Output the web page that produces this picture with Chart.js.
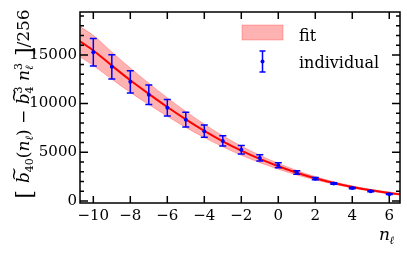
<!DOCTYPE html>
<html>
<head>
<meta charset="utf-8">
<script src="https://cdn.jsdelivr.net/npm/chart.js@4"></script>
<style>
  html, body { margin: 0; padding: 0; background: #fff; }
  canvas { display: block; }
</style>
</head>
<body>
<canvas id="chart" width="407" height="254"></canvas>
<script>
// individual points with error bars
const nValues = [-10, -9, -8, -7, -6, -5, -4, -3, -2, -1, 0, 1, 2, 3, 4, 5, 6]
const individualValues = [15270, 13770, 12230, 10900, 9570, 8350, 7170, 6170, 5270, 4430, 3670, 2930, 2300, 1800, 1330, 1000, 700]
const individualErrors = [1400, 1250, 1130, 1000, 850, 750, 630, 530, 430, 330, 250, 180, 120, 80, 60, 50, 40]

// fit curve and its band
const fitN = [-10.72, -10, -9, -8, -7, -6, -5, -4, -3, -2, -1, 0, 1, 2, 3, 4, 5, 6, 6.58]
const fitCenter = [16400, 15450, 13900, 12400, 11000, 9650, 8380, 7200, 6130, 5170, 4320, 3570, 2910, 2340, 1860, 1450, 1110, 830, 690]
const fitLow = [14800, 13900, 12500, 11150, 9900, 8700, 7560, 6510, 5560, 4700, 3940, 3270, 2680, 2170, 1730, 1340, 1010, 730, 590]
const fitHigh = [17900, 17000, 15300, 13650, 12100, 10600, 9200, 7890, 6700, 5640, 4700, 3870, 3140, 2510, 1990, 1560, 1210, 930, 790]

const xTicks = [-10, -8, -6, -4, -2, 0, 2, 4, 6]
const yTicks = [0, 5000, 10000, 15000]

const SERIF = "'DejaVu Serif', 'Liberation Serif', serif"
const BLUE = "rgb(0, 0, 255)"
const RED = "rgb(255, 0, 0)"

const pts = (xs, ys) => xs.map((x, i) => ({ x, y: ys[i] }))

const errorBars = {
  id: "errorBars",
  afterDatasetDraw(chart, args) {
    if (args.index !== 1) return
    const { ctx, scales: { x, y } } = chart
    ctx.save()
    ctx.strokeStyle = BLUE
    ctx.lineWidth = 1.5
    nValues.forEach((n, i) => {
      const px = x.getPixelForValue(n)
      const top = y.getPixelForValue(individualValues[i] + individualErrors[i])
      const bot = y.getPixelForValue(individualValues[i] - individualErrors[i])
      ctx.beginPath()
      ctx.moveTo(px, top); ctx.lineTo(px, bot)
      ctx.moveTo(px - 3.5, top); ctx.lineTo(px + 3.5, top)
      ctx.moveTo(px - 3.5, bot); ctx.lineTo(px + 3.5, bot)
      ctx.stroke()
    })
    ctx.restore()
  }
}

// draw a run of math pieces along a baseline, centred at 0
function drawMath(ctx, pieces) {
  const widths = pieces.map(p => {
    ctx.font = `${p.italic ? "italic " : ""}${p.size}px ${SERIF}`
    let w = ctx.measureText(p.t).width
    if (p.sup) {
      ctx.font = `${p.size}px ${SERIF}`
      w = Math.max(w, ctx.measureText(p.sup).width)
    }
    return w
  })
  let cx = -widths.reduce((a, b) => a + b, 0) / 2
  pieces.forEach((p, i) => {
    ctx.font = `${p.italic ? "italic " : ""}${p.size}px ${SERIF}`
    ctx.fillText(p.t, cx, p.dy || 0)
    if (p.tilde) {
      ctx.font = `${p.size}px ${SERIF}`
      ctx.fillText("~", cx + 2, -10)
    }
    if (p.sup) {
      ctx.font = `${p.size}px ${SERIF}`
      ctx.fillText(p.sup, cx, -7)
    }
    cx += widths[i]
  })
}

const frameAndText = {
  id: "frameAndText",
  afterDraw(chart) {
    const { ctx, chartArea: a, scales: { x, y } } = chart
    ctx.save()
    ctx.strokeStyle = "#000"
    ctx.lineWidth = 1.5
    ctx.strokeRect(a.left, a.top, a.right - a.left, a.bottom - a.top)

    ctx.beginPath()
    xTicks.forEach(v => {
      const px = x.getPixelForValue(v)
      ctx.moveTo(px, a.bottom); ctx.lineTo(px, a.bottom - 7)
      ctx.moveTo(px, a.top); ctx.lineTo(px, a.top + 7)
    })
    for (let v = 0; v <= 19000; v += 1000) {
      const py = y.getPixelForValue(v)
      const len = v % 5000 === 0 ? 8 : 4
      ctx.moveTo(a.left, py); ctx.lineTo(a.left + len, py)
      ctx.moveTo(a.right, py); ctx.lineTo(a.right - len, py)
    }
    ctx.stroke()

    // legend
    ctx.fillStyle = "rgba(255, 0, 0, 0.3)"
    ctx.fillRect(242, 25, 41, 15)
    ctx.strokeStyle = "rgba(255, 0, 0, 0.25)"
    ctx.lineWidth = 1
    ctx.strokeRect(242, 25, 41, 15)
    ctx.strokeStyle = BLUE
    ctx.lineWidth = 1.5
    ctx.beginPath()
    ctx.moveTo(262.5, 51); ctx.lineTo(262.5, 72)
    ctx.moveTo(259.5, 51); ctx.lineTo(265.5, 51)
    ctx.moveTo(259.5, 72); ctx.lineTo(265.5, 72)
    ctx.stroke()
    ctx.fillStyle = BLUE
    ctx.beginPath(); ctx.arc(262.5, 61.5, 2, 0, Math.PI * 2); ctx.fill()

    ctx.fillStyle = "#000"
    ctx.font = `16px ${SERIF}`
    ctx.textBaseline = "alphabetic"
    ctx.fillText("fit", 299, 40.5)
    ctx.fillText("individual", 299, 67.5)

    // x label
    ctx.font = `italic 17px ${SERIF}`
    ctx.fillText("n", 379, 240)
    ctx.font = `italic 11px ${SERIF}`
    ctx.fillText("ℓ", 389.5, 244)

    // y label
    ctx.translate(29, 104)
    ctx.rotate(-Math.PI / 2)
    drawMath(ctx, [
      { t: "[ ", size: 22, dy: 3 },
      { t: "b", italic: true, size: 17, tilde: true },
      { t: "40", size: 11, dy: 4 },
      { t: "(", size: 17 },
      { t: "n", italic: true, size: 17 },
      { t: "ℓ", italic: true, size: 11, dy: 4 },
      { t: ") − ", size: 17 },
      { t: "b", italic: true, size: 17, tilde: true },
      { t: "4", size: 11, dy: 4, sup: "3" },
      { t: " n", italic: true, size: 17 },
      { t: "ℓ", italic: true, size: 11, dy: 4, sup: "3" },
      { t: " ]", size: 22, dy: 3 },
      { t: "/256", size: 17 }
    ])
    ctx.restore()
  }
}

const tickFont = { family: SERIF, size: 15 }

new Chart(document.getElementById("chart"), {
  data: {
    datasets: [
      {
        type: "scatter",
        label: "individual",
        data: pts(nValues, individualValues),
        backgroundColor: BLUE,
        borderColor: BLUE,
        pointRadius: 2,
        borderWidth: 0
      },
      {
        type: "line",
        label: "fit line",
        data: pts(fitN, fitCenter),
        borderColor: RED,
        borderWidth: 2,
        pointRadius: 0,
        cubicInterpolationMode: "monotone",
        fill: false
      },
      {
        type: "line",
        label: "fit",
        data: pts(fitN, fitHigh),
        borderColor: "rgba(255, 0, 0, 0.25)",
        borderWidth: 1,
        backgroundColor: "rgba(255, 0, 0, 0.3)",
        pointRadius: 0,
        cubicInterpolationMode: "monotone",
        fill: "+1"
      },
      {
        type: "line",
        label: "fit low",
        data: pts(fitN, fitLow),
        borderColor: "rgba(255, 0, 0, 0.25)",
        borderWidth: 1,
        pointRadius: 0,
        cubicInterpolationMode: "monotone",
        fill: false
      }
    ]
  },
  options: {
    responsive: false,
    animation: false,
    devicePixelRatio: 1,
    layout: { padding: { top: 7, right: 7, left: 0, bottom: 0 } },
    plugins: {
      legend: { display: false },
      tooltip: { enabled: false }
    },
    scales: {
      x: {
        type: "linear",
        min: -10.72,
        max: 6.58,
        afterFit: s => { s.height = 51 },
        afterBuildTicks: s => { s.ticks = xTicks.map(value => ({ value })) },
        ticks: {
          font: tickFont,
          color: "#000",
          padding: 4,
          maxRotation: 0,
          callback: v => String(v).replace("-", "−")
        },
        grid: { display: false, drawTicks: false },
        border: { display: false }
      },
      y: {
        type: "linear",
        min: -200,
        max: 19400,
        afterFit: s => { s.width = 80 },
        afterBuildTicks: s => { s.ticks = yTicks.map(value => ({ value })) },
        ticks: {
          font: tickFont,
          color: "#000",
          padding: 3,
          callback: v => String(v)
        },
        grid: { display: false, drawTicks: false },
        border: { display: false }
      }
    }
  },
  plugins: [errorBars, frameAndText]
})
</script>
</body>
</html>
